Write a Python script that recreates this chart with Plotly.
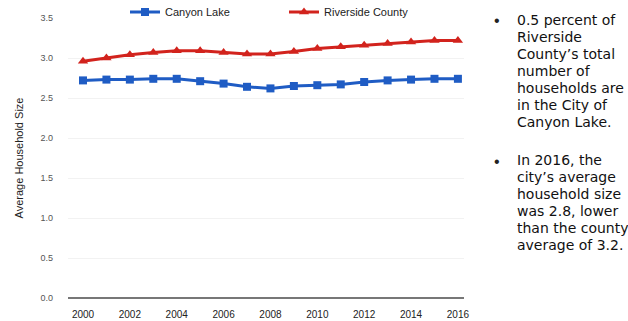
import plotly.graph_objects as go

years = list(range(2000, 2017))
canyon_lake = [2.72, 2.73, 2.73, 2.74, 2.74, 2.71, 2.68, 2.64, 2.62, 2.65, 2.66, 2.67, 2.70, 2.72, 2.73, 2.74, 2.74]
riverside = [2.96, 3.00, 3.04, 3.07, 3.09, 3.09, 3.07, 3.05, 3.05, 3.08, 3.12, 3.14, 3.16, 3.18, 3.20, 3.22, 3.22]
y_ticks = [0.0, 0.5, 1.0, 1.5, 2.0, 2.5, 3.0, 3.5]
x_ticks = list(range(2000, 2017, 2))
bullet1 = ["0.5 percent of", "Riverside", "County\u2019s total", "number of",
           "households are", "in the City of", "Canyon Lake."]
bullet2 = ["In 2016, the", "city\u2019s average", "household size",
           "was 2.8, lower", "than the county", "average of 3.2."]

W, H = 628, 321
L, R, T, B = 68, 164, 18, 23
PW, PH = W - L - R, H - T - B

def px(x):
    return (x - L) / PW

def py(y):
    return (H - B - y) / PH

fig = go.Figure()
fig.add_trace(go.Scatter(
    x=years, y=canyon_lake, name="Canyon Lake", mode="lines+markers",
    line=dict(color="#1f5cc4", width=3),
    marker=dict(symbol="square", size=8, color="#1f5cc4"),
))
fig.add_trace(go.Scatter(
    x=years, y=riverside, name="Riverside County", mode="lines+markers",
    line=dict(color="#d2231d", width=3),
    marker=dict(symbol="triangle-up", size=9, color="#d2231d"),
))

fig.update_layout(
    width=W, height=H,
    margin=dict(l=L, r=R, t=T, b=B, pad=0, autoexpand=False),
    paper_bgcolor="white", plot_bgcolor="white",
    font=dict(family="Arial, Liberation Sans", color="#333"),
    showlegend=True,
    legend=dict(
        orientation="h", x=px(125), xanchor="left", y=py(12), yanchor="middle",
        font=dict(size=11, color="#222"), entrywidth=114, itemwidth=30,
        bgcolor="rgba(0,0,0,0)",
    ),
    xaxis=dict(
        range=[1999.36, 2016.26], tickvals=x_ticks, showgrid=False,
        zeroline=False, showline=False, ticks="", ticklabelstandoff=9,
        tickfont=dict(size=10, color="#222"),
    ),
    yaxis=dict(
        range=[0, 3.5], tickvals=y_ticks, ticktext=[f"{v:.1f}" for v in y_ticks],
        showgrid=True, gridcolor="#f2f2f2", gridwidth=1,
        zeroline=True, zerolinecolor="#777", zerolinewidth=2,
        ticks="", ticklabelstandoff=14,
        tickfont=dict(size=9, color="#555"),
        title=dict(text="Average Household Size", font=dict(size=11, color="#222"), standoff=14),
    ),
)

ann_font = dict(family="DejaVu Sans, Verdana", size=14, color="#111")
for y0, lines in [(20, bullet1), (160, bullet2)]:
    for i, txt in enumerate(lines):
        fig.add_annotation(xref="paper", yref="paper", x=px(515), y=py(y0 + i * 17),
                           xanchor="left", yanchor="middle", align="left",
                           text=txt, showarrow=False, font=ann_font)
    fig.add_annotation(xref="paper", yref="paper", x=px(497), y=py(y0 + 1),
                       xanchor="center", yanchor="middle",
                       text="\u2022", showarrow=False, font=dict(size=16, color="#222"))

fig.write_html("out.html")
